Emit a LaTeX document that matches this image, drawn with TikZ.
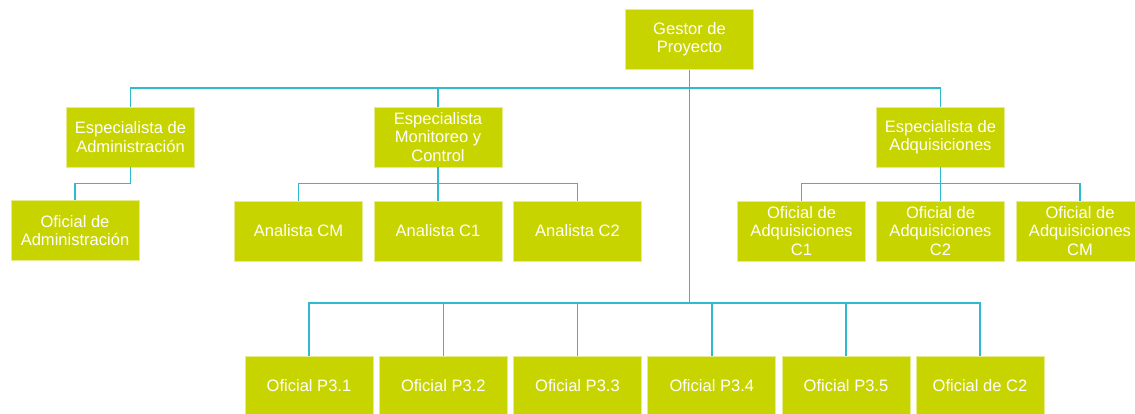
\documentclass[tikz,border=0pt]{standalone}
\usepackage{fontspec}
\setmainfont{Liberation Sans}
\usepackage{tikz}
\definecolor{cajaverde}{RGB}{200,212,0}
\definecolor{lineacian}{RGB}{47,186,206}
\tikzset{
cargo/.style={fill=cajaverde,draw=cajaverde!45!white,line width=0.8bp,minimum width=128bp,minimum height=60bp,inner sep=0pt,align=center,text=white,font=\fontsize{16.6}{18.4}\selectfont},
enlace/.style={draw=lineacian,line width=1.4bp}
}
\begin{document}
\begin{tikzpicture}[x=1bp,y=-1bp]
\useasboundingbox (0,0) rectangle (1135,413);
\node[cargo] (gp) at (689.5,39.3) {Gestor de\\Proyecto};
\node[cargo] (ea) at (130.5,137) {Especialista de\\Administración};
\node[cargo] (emc) at (438,137) {Especialista\\Monitoreo y\\Control};
\node[cargo] (eq) at (940.5,137) {Especialista de\\Adquisiciones};
\node[cargo] (oa) at (75,230.5) {Oficial de\\Administración};
\node[cargo] (acm) at (298.5,231) {Analista CM};
\node[cargo] (ac1) at (438,231) {Analista C1};
\node[cargo] (ac2) at (577.5,231) {Analista C2};
\node[cargo] (oq1) at (801.5,231) {Oficial de\\Adquisiciones\\C1};
\node[cargo] (oq2) at (940.5,231) {Oficial de\\Adquisiciones\\C2};
\node[cargo] (oq3) at (1080,231) {Oficial de\\Adquisiciones\\CM};
\foreach \n/\x/\t in {p1/309/Oficial P3.1,p2/443.3/Oficial P3.2,p3/577.5/Oficial P3.3,p4/711.8/Oficial P3.4,p5/846/Oficial P3.5,p6/980/Oficial de C2}
\node[cargo] (\n) at (\x,386) {\t};
\coordinate (bus1) at (0,88);
\coordinate (bus2) at (0,183.5);
\coordinate (bus3) at (0,303);
\draw[enlace] (ea.north) |- (eq.north |- bus1) -- (eq.north);
\draw[enlace] (emc.north) -- (emc.north |- bus1);
\draw[enlace] (gp.south) -- (gp.south |- bus3);
\draw[enlace] (ea.south) |- (oa.north |- bus2) -- (oa.north);
\draw[enlace] (acm.north) |- (ac2.north |- bus2) -- (ac2.north);
\draw[enlace] (emc.south) -- (ac1.north);
\draw[enlace] (oq1.north) |- (oq3.north |- bus2) -- (oq3.north);
\draw[enlace] (eq.south) -- (oq2.north);
\draw[enlace] (p1.north) |- (p6.north |- bus3) -- (p6.north);
\foreach \n in {p2,p3,p4,p5}
\draw[enlace] (\n.north) -- (\n.north |- bus3);
\end{tikzpicture}
\end{document}
